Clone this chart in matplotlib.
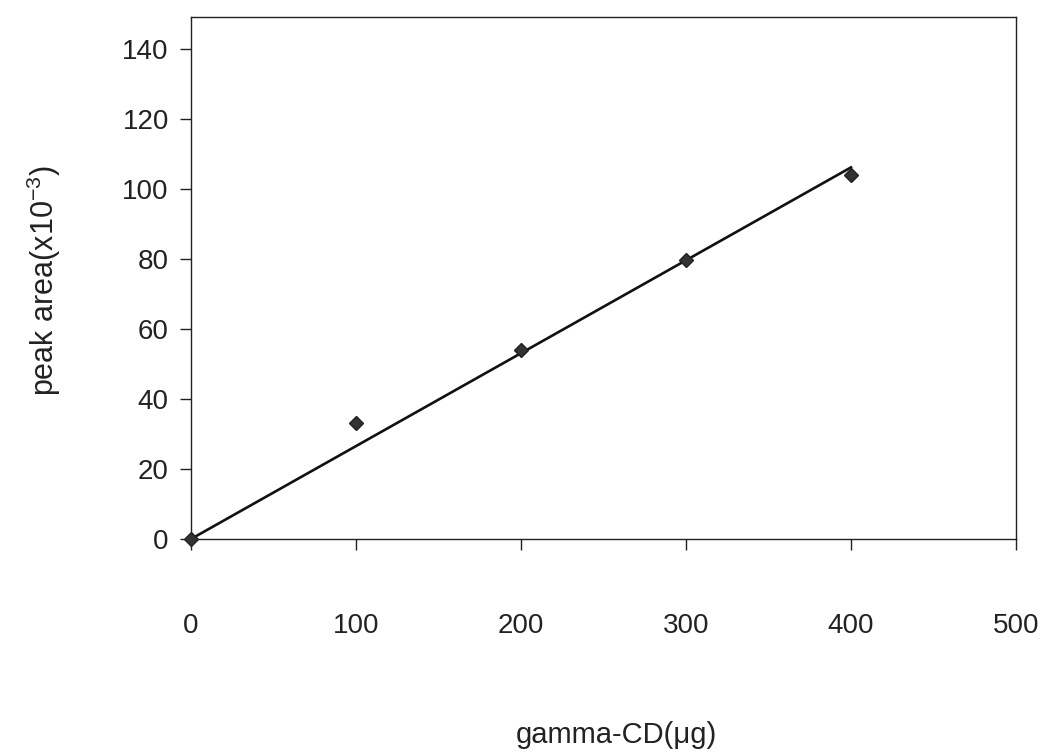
import numpy as np
import matplotlib
matplotlib.use("Agg")
import matplotlib.pyplot as plt

plt.rcParams['font.family'] = ['Liberation Sans', 'DejaVu Sans']
plt.rcParams['mathtext.fontset'] = 'custom'
plt.rcParams['mathtext.rm'] = 'Liberation Sans'
plt.rcParams['mathtext.it'] = 'Liberation Sans'

gamma_cd = np.array([0, 100, 200, 300, 400])
peak_area = np.array([0, 33, 54, 79.5, 104])
x_ticks = [0, 100, 200, 300, 400, 500]
y_ticks = [0, 20, 40, 60, 80, 100, 120, 140]

fig = plt.figure(figsize=(10.42, 7.55), dpi=100)
ax = fig.add_axes([0.1833, 0.2861, 0.7917, 0.6914])

# linear trend line through origin
slope = np.sum(gamma_cd * peak_area) / np.sum(gamma_cd ** 2)
xf = np.array([gamma_cd.min(), gamma_cd.max()])
ax.plot(xf, slope * xf, color='#111111', lw=1.9, zorder=2)
ax.plot(gamma_cd, peak_area, linestyle='none', marker='D', ms=7,
        color='#333333', mec='#222222', zorder=3, clip_on=False)

ax.set_xlim(0, 500)
ax.set_ylim(0, 149)
ax.set_xticks(x_ticks)
ax.set_yticks(y_ticks)
ax.tick_params(axis='both', labelsize=20, colors='#222222', direction='out',
               length=8, width=1.0)
ax.tick_params(axis='x', pad=45)
ax.tick_params(axis='y', pad=8)
for s in ax.spines.values():
    s.set_linewidth(1.0)
    s.set_color('#222222')

ax.set_ylabel('peak area(x10$^{\\mathregular{-3}}$)', fontsize=22, color='#222222')
ax.yaxis.set_label_coords(-0.155, 0.496)
ax.set_xlabel('gamma-CD(μg)', fontsize=21, color='#222222', va='center')
ax.xaxis.set_label_coords(0.516, -0.375)

fig.savefig('out.png', dpi=100)
